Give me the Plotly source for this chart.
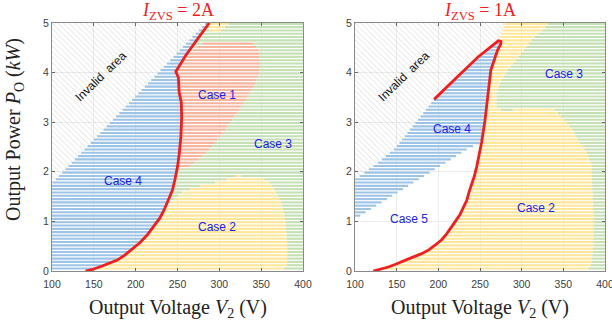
import plotly.graph_objects as go

# ---------------- data (left: I_ZVS = 2A) ----------------
red_L_v = [140, 150, 160, 170, 178, 187, 195, 205, 214, 222, 229, 234, 240, 244, 247, 250, 252, 254, 255,
           254.5, 252, 251, 248, 260, 275, 288]
red_L_p = [0, 0.04, 0.1, 0.16, 0.22, 0.32, 0.43, 0.57, 0.73, 0.9, 1.07, 1.23, 1.45, 1.63, 1.85, 2.1, 2.35, 2.7, 3.1,
           3.4, 3.6, 3.9, 4.02, 4.35, 4.7, 5.0]
inv_L_v = [100, 284]
inv_L_p = [1.77, 5.0]
case1_L_v = [240, 253, 261, 269, 277, 289, 301, 315, 329, 341, 348, 349, 347, 340, 285, 275, 262, 249, 240]
case1_L_p = [2.05, 2.05, 2.07, 2.17, 2.27, 2.47, 2.71, 3.04, 3.38, 3.72, 4.0, 4.2, 4.45, 4.6, 4.62, 4.55, 4.35, 4.05, 4.05]
case2_L_v = [150, 236, 243, 250, 257, 273, 300, 321, 348, 359, 367, 375, 379, 381, 381, 373]
case2_L_p = [0, 1.3, 1.4, 1.5, 1.6, 1.7, 1.8, 1.92, 1.9, 1.8, 1.6, 1.33, 1.0, 0.5, 0.1, 0]
case2top_L_v = [284, 312, 302, 288]
case2top_L_p = [5.0, 5.0, 4.85, 4.85]

# ---------------- data (right: I_ZVS = 1A) ----------------
# red curve split in three parts: lower branch, upper branch to the loop top, return branch
redlow_R_v = [122, 132, 140, 148, 156, 168, 180, 189, 196, 204, 210, 216, 220, 226, 230, 234, 237, 240, 243, 246, 248, 250, 252]
redlow_R_p = [0, 0.04, 0.08, 0.13, 0.19, 0.27, 0.35, 0.43, 0.52, 0.63, 0.75, 0.88, 0.99, 1.14, 1.27, 1.42, 1.6, 1.75, 1.9, 2.1, 2.27, 2.45, 2.6]
redup_R_v = [256, 259, 261, 263, 266, 271, 275, 275, 272]
redup_R_p = [3.04, 3.5, 3.85, 4.05, 4.2, 4.45, 4.58, 4.63, 4.64]
redback_R_v = [248, 222, 195]
redback_R_p = [4.32, 3.9, 3.46]
inv_R_v = [100, 125, 148, 195, 248, 272, 280]
inv_R_p = [1.85, 2.15, 2.47, 3.46, 4.32, 4.64, 5.0]
case4low_R_v = [100, 236]
case4low_R_p = [1.05, 2.47]
case3_R_v = [332, 400, 400, 380, 380, 384, 386, 386, 384, 383.6, 379.6, 377.6, 373.6, 367.6, 361.6, 351.6, 339.6,
             320, 295, 280, 270, 269.6, 275.6, 283.6, 291.6, 299.6, 307.6, 315.6, 325.6]
case3_R_p = [5, 5, 0, 0, 0.07, 0.13, 0.54, 1.21, 1.88, 2.15, 2.28, 2.41, 2.51, 2.64, 2.84, 3.04, 3.25,
             3.31, 3.28, 3.2, 3.3, 3.58, 3.85, 4.05, 4.22, 4.39, 4.56, 4.72, 4.86]

stripe_rows = [(k + 0.75) / 15 for k in range(75)]
xticks = [100, 150, 200, 250, 300, 350, 400]
yticks = [0, 1, 2, 3, 4, 5]

BLUE = '#9DC3E6'
SALMON = '#F5B59E'
YELLOW = '#FFE699'
GREEN = '#C5E0B4'
RED = '#F01E1E'


def crossings(vs, ps, y):
    xs = []
    n = len(vs)
    for i in range(n):
        x1, y1 = vs[i], ps[i]
        x2, y2 = vs[(i + 1) % n], ps[(i + 1) % n]
        if (y1 <= y < y2) or (y2 <= y < y1):
            xs.append(x1 + (y - y1) * (x2 - x1) / (y2 - y1))
    xs.sort()
    return [(xs[i], xs[i + 1]) for i in range(0, len(xs) - 1, 2)]


def subtract(ints, cuts):
    res = ints
    for c0, c1 in cuts:
        new = []
        for a, b in res:
            if c1 <= a or c0 >= b:
                new.append((a, b))
                continue
            if a < c0:
                new.append((a, c0))
            if c1 < b:
                new.append((c1, b))
        res = new
    return res


def stripe_traces(layers, xa, ya):
    """layers: list of (vs, ps, color or None for mask), bottom first."""
    out = {}
    for y in stripe_rows:
        ints = [crossings(v, p, y) for v, p, c in layers]
        for i, (v, p, c) in enumerate(layers):
            if c is None:
                continue
            cuts = [iv for j in range(i + 1, len(layers)) for iv in ints[j]]
            vis = subtract(ints[i], cuts)
            xs, ys = out.setdefault(c, ([], []))
            for a, b in vis:
                a, b = max(a, 100), min(b, 400)
                if b - a > 0.3:
                    xs += [a, b, None]
                    ys += [y, y, None]
    return [go.Scatter(x=xs, y=ys, xaxis=xa, yaxis=ya, mode='lines', line=dict(color=c, width=2.1),
                       hoverinfo='skip', showlegend=False) for c, (xs, ys) in out.items()]


def hatch_fill(xs, ys, xa, ya):
    return go.Scatter(x=xs, y=ys, xaxis=xa, yaxis=ya, mode='none', fill='toself',
                      fillcolor='rgba(0,0,0,0)',
                      fillpattern=dict(shape='\\', fgcolor='#BDBDBD', bgcolor='rgba(255,255,255,0)', size=4, solidity=0.22),
                      hoverinfo='skip', showlegend=False)


fig = go.Figure()

# ---- left plot ----
green_L_v = red_L_v + [400, 400]
green_L_p = red_L_p + [5, 0]
blue_L_v = [100] + red_L_v + inv_L_v[::-1]
blue_L_p = [0] + red_L_p + inv_L_p[::-1]
hatch_L_v = inv_L_v + [100]
hatch_L_p = inv_L_p + [5]
layers_L = [(green_L_v, green_L_p, GREEN), (case2_L_v, case2_L_p, YELLOW), (case2top_L_v, case2top_L_p, YELLOW),
            (case1_L_v, case1_L_p, SALMON), (blue_L_v, blue_L_p, BLUE), (hatch_L_v, hatch_L_p, None)]
for t in stripe_traces(layers_L, 'x', 'y'):
    fig.add_trace(t)
fig.add_trace(hatch_fill(hatch_L_v, hatch_L_p, 'x', 'y'))
fig.add_trace(go.Scatter(x=red_L_v, y=red_L_p, xaxis='x', yaxis='y', mode='lines',
                         line=dict(color=RED, width=2.8), hoverinfo='skip', showlegend=False))

# ---- right plot ----
yel_R_v = redlow_R_v + redup_R_v + [280, 400, 400]
yel_R_p = redlow_R_p + redup_R_p + [5, 5, 0]
blue_R_v = case4low_R_v + redlow_R_v[-1:] + redup_R_v + inv_R_v[:-2][::-1]
blue_R_p = case4low_R_p + redlow_R_p[-1:] + redup_R_p + inv_R_p[:-2][::-1]
hatch_R_v = inv_R_v + [100]
hatch_R_p = inv_R_p + [5]
layers_R = [(yel_R_v, yel_R_p, YELLOW), (case3_R_v, case3_R_p, GREEN), (blue_R_v, blue_R_p, BLUE),
            (hatch_R_v, hatch_R_p, None)]
for t in stripe_traces(layers_R, 'x2', 'y2'):
    fig.add_trace(t)
fig.add_trace(hatch_fill(hatch_R_v, hatch_R_p, 'x2', 'y2'))
fig.add_trace(go.Scatter(x=redlow_R_v + redup_R_v + redback_R_v, y=redlow_R_p + redup_R_p + redback_R_p,
                         xaxis='x2', yaxis='y2', mode='lines',
                         line=dict(color=RED, width=2.8), hoverinfo='skip', showlegend=False))

W, H = 612, 328
ML, MR, MT, MB = 52, 7, 23, 57
PW = W - ML - MR
axis_common = dict(ticks='inside', ticklen=3, tickcolor='#666', showline=True, linecolor='#8a8a8a',
                   linewidth=1, mirror='ticks', showgrid=True, gridcolor='#ececec', zeroline=False,
                   automargin=False, ticklabeloverflow='allow',
                   tickfont=dict(family='Liberation Sans', size=10.5, color='#404040'))
xaxis_extra = dict(ticklabelstandoff=3)
fig.update_layout(
    width=W, height=H, margin=dict(l=ML, r=MR, t=MT, b=MB, autoexpand=False),
    plot_bgcolor='white', paper_bgcolor='white', showlegend=False,
    xaxis=dict(domain=[0, (303 - ML) / PW], range=[100, 400], tickvals=xticks, anchor='y',
               **axis_common, **xaxis_extra),
    yaxis=dict(domain=[0, 1], range=[0, 5], tickvals=yticks, anchor='x', **axis_common),
    xaxis2=dict(domain=[(355 - ML) / PW, 1], range=[100, 400], tickvals=xticks, anchor='y2',
                **axis_common, **xaxis_extra),
    yaxis2=dict(domain=[0, 1], range=[0, 5], tickvals=yticks, anchor='x2', **axis_common),
)


def px_x(px):
    return (px - ML) / PW


def px_y(py):
    return (H - MB - py) / (H - MT - MB)


serif = 'Liberation Serif'
ann = []
ann.append(dict(x=px_x(177.5), y=px_y(12), xref='paper', yref='paper', showarrow=False, xanchor='center',
                yanchor='middle', text='<i>I</i><sub>ZVS</sub> = 2A', font=dict(family=serif, size=18, color=RED)))
ann.append(dict(x=px_x(480), y=px_y(12), xref='paper', yref='paper', showarrow=False, xanchor='center',
                yanchor='middle', text='<i>I</i><sub>ZVS</sub> = 1A', font=dict(family=serif, size=18, color=RED)))
for cx in (177.5, 480):
    ann.append(dict(x=px_x(cx), y=px_y(308), xref='paper', yref='paper', showarrow=False, xanchor='center',
                    yanchor='middle', text='Output Voltage <i>V</i><sub>2</sub> (V)',
                    font=dict(family=serif, size=20, color='#222')))
ann.append(dict(x=px_x(14), y=px_y(130), xref='paper', yref='paper', showarrow=False, textangle=-90,
                xanchor='center', yanchor='middle',
                text='Output Power <i>P</i><sub>O</sub> (<i>kW</i>)', font=dict(family=serif, size=20, color='#222')))

case_font = dict(family='Liberation Sans', size=12, color='#2020F0')
labels = [('x', 'y', 297.6, 3.55, 'Case 1'), ('x', 'y', 363.6, 2.57, 'Case 3'),
          ('x', 'y', 185.2, 1.81, 'Case 4'), ('x', 'y', 297.2, 0.88, 'Case 2'),
          ('x2', 'y2', 216.8, 2.86, 'Case 4'), ('x2', 'y2', 350.8, 3.97, 'Case 3'),
          ('x2', 'y2', 164.2, 1.05, 'Case 5'), ('x2', 'y2', 317.2, 1.28, 'Case 2')]
for xr, yr, vx, vy, t in labels:
    ann.append(dict(x=vx, y=vy, xref=xr, yref=yr, showarrow=False, text=t, font=case_font))
for xr, yr in (('x', 'y'), ('x2', 'y2')):
    ann.append(dict(x=159, y=3.93, xref=xr, yref=yr, showarrow=False, textangle=-44,
                    text='Invalid  area', font=dict(family='Liberation Sans', size=12, color='#111')))
fig.update_layout(annotations=ann)

fig.write_html('out.html')
